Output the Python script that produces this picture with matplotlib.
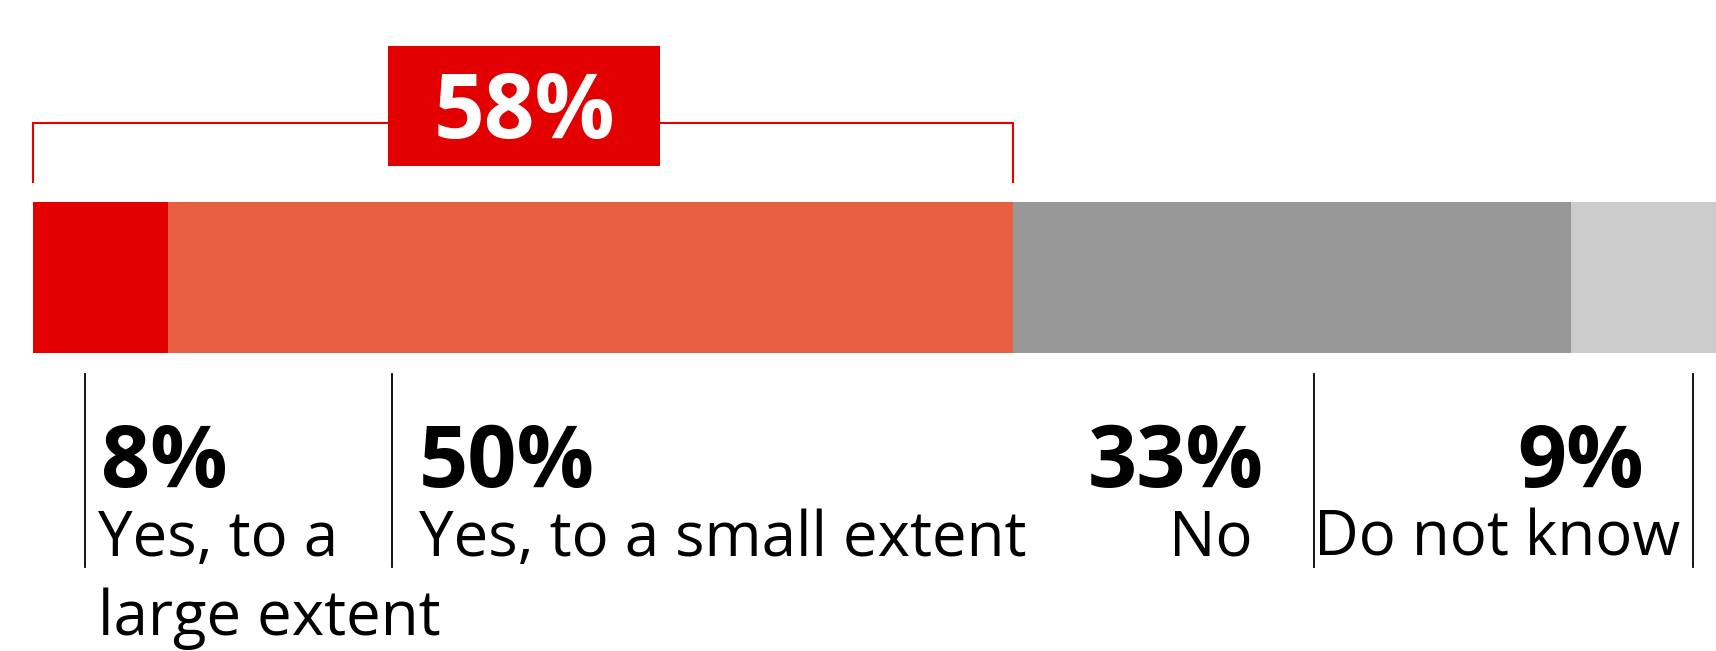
import matplotlib.pyplot as plt
from matplotlib.patches import Rectangle

# answer shares (%)
labels = [['Yes, to a', 'large extent'], ['Yes, to a small extent'], ['No'], ['Do not know']]
values = [8, 50, 33, 9]
colors = ['#e30000', '#e85f42', '#989898', '#cccccc']
yes_total = values[0] + values[1]

W, H = 1716, 651
fig = plt.figure(figsize=(W / 100, H / 100), dpi=100)
ax = fig.add_axes([0, 0, 1, 1])
x0 = 33            # pixel where the bar starts
ppu = 16.9         # pixels per percent
ax.set_xlim(-x0 / ppu, (W - x0) / ppu)
ax.set_ylim(H, 0)  # y in pixels from the top
ax.axis('off')


def px(x):
    # pixel column -> bar percent
    return (x - x0) / ppu


fam = ['Open Sans', 'DejaVu Sans']

# stacked bar
left = 0
for v, c in zip(values, colors):
    ax.barh(277.5, v, left=left, height=151, color=c, linewidth=0)
    left += v

# bracket over the "yes" answers
ax.plot([0, 0, yes_total, yes_total], [182, 123, 123, 182],
        color='#e30000', lw=1.5, solid_joinstyle='miter', clip_on=False)
ax.add_patch(Rectangle((px(388), 46), px(660) - px(388), 120,
                       facecolor='#e30000', edgecolor='none', zorder=3))
ax.text((px(388) + px(660)) / 2, 138, f'{yes_total}%', color='white',
        fontsize=64, fontweight='bold', ha='center', va='baseline',
        family=fam, zorder=4)

# divider lines
for xd in [85, 392, 1314, 1693]:
    ax.plot([px(xd), px(xd)], [374, 567], color='black', lw=1.3)

# value + answer labels
val_pos = [(101, 'left'), (419, 'left'), (1264, 'right'), (1644, 'right')]
lab_pos = [98, 419, 1253, 1680]
for (xp, ha), lx, v, lines in zip(val_pos, lab_pos, values, labels):
    ax.text(px(xp), 487, f'{v}%', fontsize=62, fontweight='bold',
            ha=ha, va='baseline', family=fam)
    for i, line in enumerate(lines):
        ax.text(px(lx), 556 + 79 * i, line, fontsize=44.5, ha=ha,
                va='baseline', family=fam)

fig.savefig('out.png', dpi=100)
